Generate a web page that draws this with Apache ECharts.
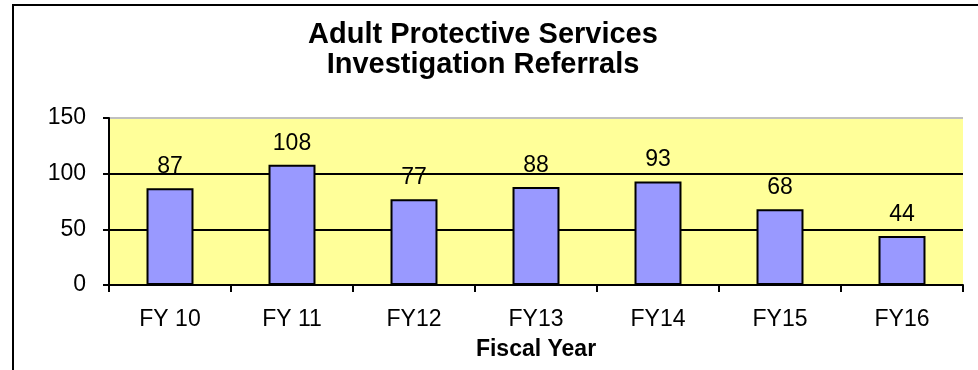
<!DOCTYPE html>
<html>
<head>
<meta charset="utf-8">
<script src="https://cdn.jsdelivr.net/npm/echarts@6/dist/echarts.min.js"></script>
<style>
html,body{margin:0;padding:0;background:#fff;}
#chart{width:978px;height:370px;}
</style>
</head>
<body>
<div id="chart"></div>
<script>
var titleText = 'Adult Protective Services\nInvestigation Referrals';
var categories = ['FY 10', 'FY 11', 'FY12', 'FY13', 'FY14', 'FY15', 'FY16'];
var referrals = [87, 108, 77, 88, 93, 68, 44];
var xAxisName = 'Fiscal Year';

var FONT = '"Liberation Sans", Arial, sans-serif';
var chart = echarts.init(document.getElementById('chart'), null, {renderer: 'canvas'});
chart.setOption({
  animation: false,
  backgroundColor: '#ffffff',
  textStyle: {fontFamily: FONT},
  graphic: [{
    type: 'rect', z: -10, silent: true,
    shape: {x: 13, y: 5, width: 1100, height: 500},
    style: {fill: 'none', stroke: '#000', lineWidth: 2}
  }],
  title: {
    text: titleText,
    left: 478, top: 15, textAlign: 'center',
    textStyle: {fontFamily: FONT, fontSize: 29, fontWeight: 'bold', color: '#000', lineHeight: 30}
  },
  grid: {
    left: 109, right: 15, top: 118, bottom: 85,
    show: true, backgroundColor: '#FFFF99', borderWidth: 0
  },
  xAxis: {
    type: 'category',
    data: categories,
    name: xAxisName,
    nameLocation: 'middle',
    nameGap: 53,
    nameTextStyle: {fontFamily: FONT, fontSize: 23, fontWeight: 'bold', color: '#000'},
    axisLine: {lineStyle: {color: '#000', width: 2}},
    axisTick: {show: true, length: 7, lineStyle: {color: '#000', width: 2}},
    axisLabel: {fontFamily: FONT, fontSize: 23, color: '#000', margin: 23}
  },
  yAxis: {
    type: 'value',
    min: 0, max: 150, interval: 50,
    axisLine: {show: true, lineStyle: {color: '#000', width: 2}},
    axisTick: {show: true, length: 6, lineStyle: {color: '#000', width: 2}},
    axisLabel: {fontFamily: FONT, fontSize: 23, color: '#000', margin: 23},
    splitLine: {show: true, lineStyle: {color: ['#000', '#000', '#000', '#c0c0c0'], width: 2}}
  },
  series: [{
    type: 'bar',
    data: referrals,
    barWidth: '38.5%',
    itemStyle: {color: '#9999FF', borderColor: '#000', borderWidth: 2},
    label: {show: true, position: 'top', distance: 10, fontFamily: FONT, fontSize: 23, color: '#000'}
  }]
});
</script>
</body>
</html>
